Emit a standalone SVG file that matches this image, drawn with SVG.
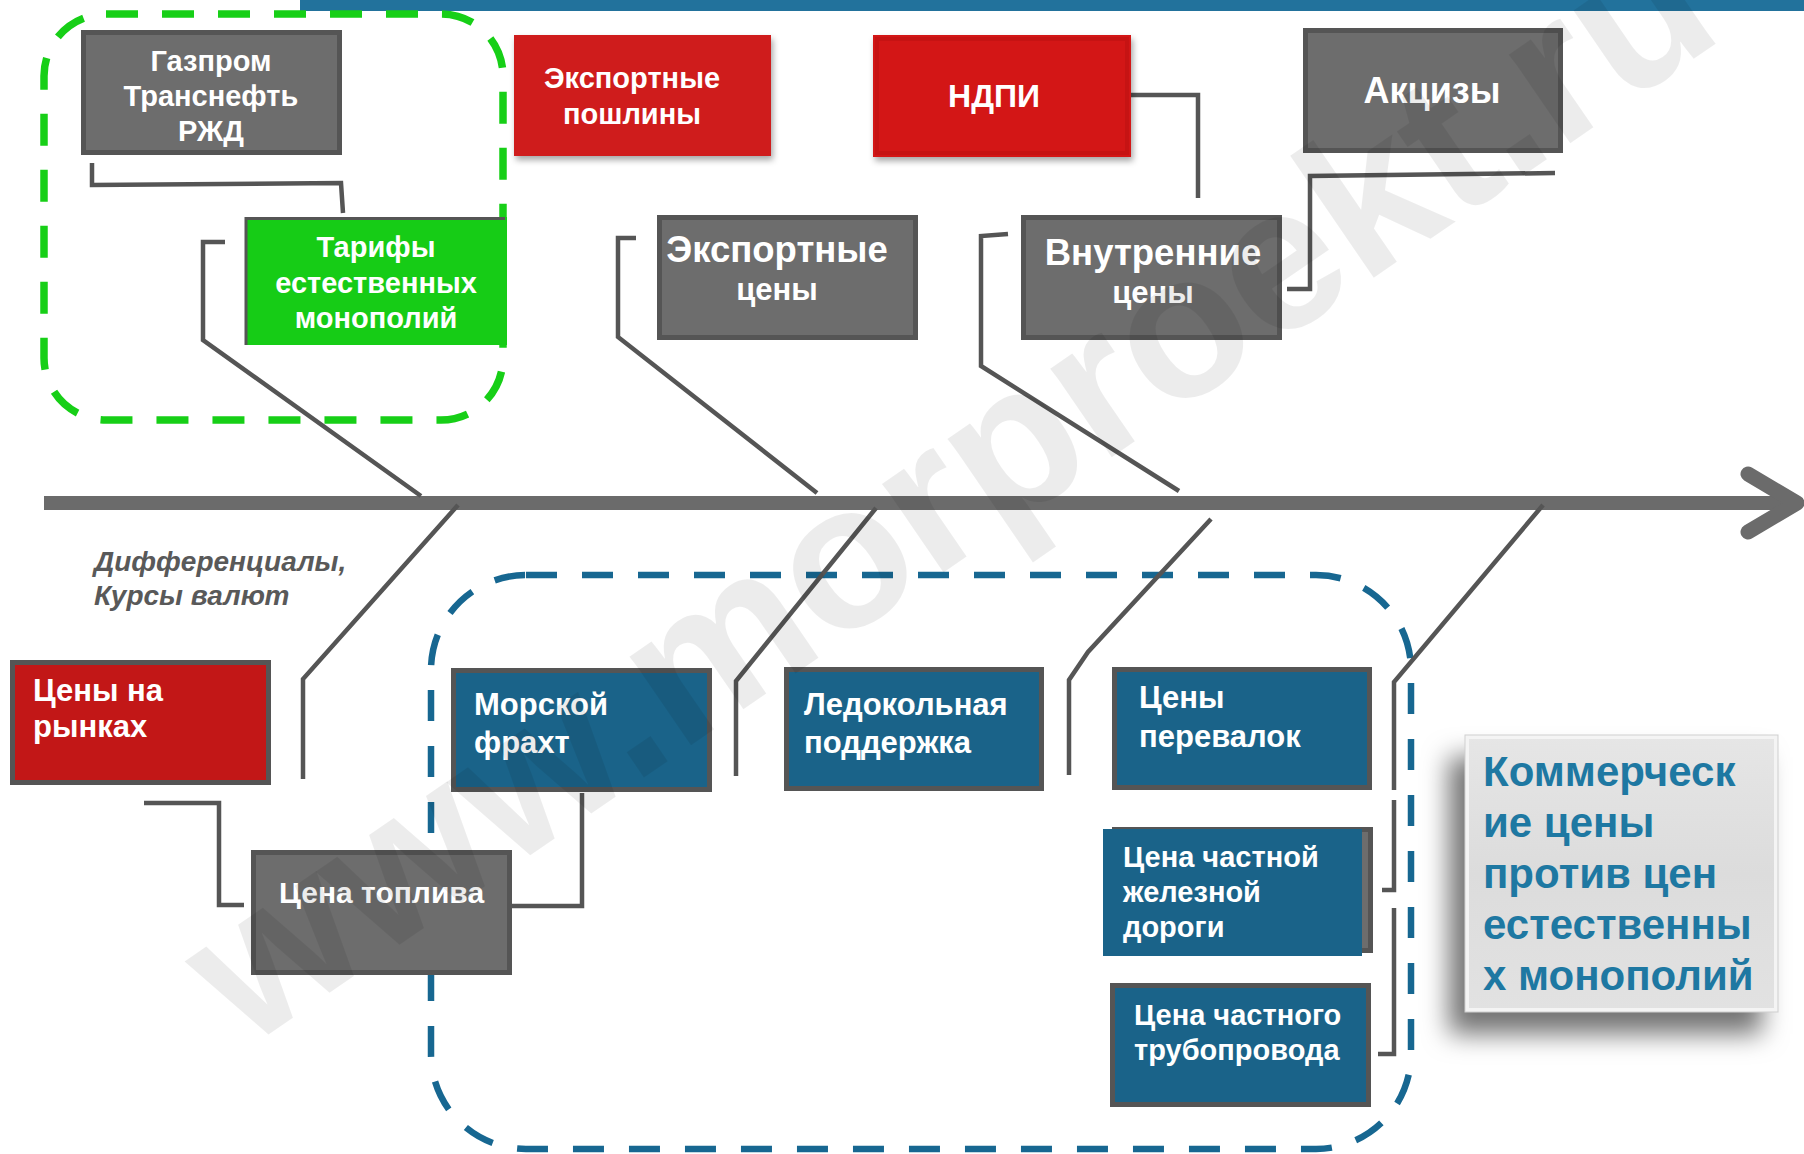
<svg xmlns="http://www.w3.org/2000/svg" width="1804" height="1154" viewBox="0 0 1804 1154">
<defs>
<style>
.t{font-family:"Liberation Sans",Arial,sans-serif;font-weight:bold;fill:#ffffff}
.c{text-anchor:middle}
.gray{fill:#6d6d6d;stroke:#555555;stroke-width:5}
.blue{fill:#1a6389;stroke:#555555;stroke-width:5}
.conn{fill:none;stroke:#555555;stroke-width:4.5;stroke-linejoin:miter}
</style>
<filter id="sh" x="-10%" y="-10%" width="130%" height="140%">
<feDropShadow dx="2" dy="4" stdDeviation="3" flood-color="#000" flood-opacity="0.35"/>
</filter>
<filter id="bigsh" x="-30%" y="-30%" width="160%" height="170%">
<feDropShadow dx="-16" dy="22" stdDeviation="13" flood-color="#000" flood-opacity="0.55"/>
</filter>
<linearGradient id="lg" x1="0" y1="0" x2="0" y2="1">
<stop offset="0" stop-color="#e6e6e6"/>
<stop offset="0.5" stop-color="#dcdcdc"/>
<stop offset="1" stop-color="#e2e2e2"/>
</linearGradient>
</defs>
<rect x="0" y="0" width="1804" height="1154" fill="#ffffff"/>
<rect x="300" y="0" width="1504" height="11" fill="#22729c"/>

<g id="groups">
<rect x="44" y="14" width="459" height="406" rx="62" fill="none" stroke="#17cf17" stroke-width="7.5" stroke-dasharray="32 24"/>
<rect x="431" y="575" width="980" height="574" rx="95" fill="none" stroke="#176791" stroke-width="6.5" stroke-dasharray="31 25"/>
</g>

<g id="axis">
<line x1="44" y1="503" x2="1794" y2="503" stroke="#6b6b6b" stroke-width="14"/>
<polyline points="1748,474 1797,503 1748,532" fill="none" stroke="#6b6b6b" stroke-width="15" stroke-linecap="round" stroke-linejoin="round"/>
</g>

<g id="connectors">
<path class="conn" d="M92,163 V185 L341,183 L343,213"/>
<path class="conn" d="M225,242 H203 V340 L421,496"/>
<path class="conn" d="M636,238 H618 V337 L817,493"/>
<path class="conn" d="M1008,234 L981,236 V366 L1179,491"/>
<path class="conn" d="M1131,95 H1198 V198"/>
<path class="conn" d="M1287,289 H1310 V176 L1555,173"/>
<path class="conn" d="M458,505 L303,679 V779"/>
<path class="conn" d="M144,803 H219 V905 H244"/>
<path class="conn" d="M512,906 H582 V793"/>
<path class="conn" d="M736,776 V681 L876,508"/>
<path class="conn" d="M1069,775 V680 L1088,652 L1211,519"/>
<path class="conn" d="M1543,505 L1394,682 V790"/>
<path class="conn" d="M1394,800 V890 H1382"/>
<path class="conn" d="M1394,908 V1054 H1378"/>
</g>

<g id="n-gazprom">
<rect class="gray" x="83.5" y="32.5" width="256" height="120"/>
<text class="t c" x="211" y="71" font-size="29">Газпром</text>
<text class="t c" x="211" y="106" font-size="29">Транснефть</text>
<text class="t c" x="211" y="141" font-size="29">РЖД</text>
</g>

<g id="n-tarify">
<rect x="245" y="217" width="262" height="128" fill="#16cc16"/>
<path d="M246,345 V218.5 H505" fill="none" stroke="#555555" stroke-width="3"/>
<text class="t c" x="376" y="257" font-size="29">Тарифы</text>
<text class="t c" x="376" y="293" font-size="29">естественных</text>
<text class="t c" x="376" y="328" font-size="29">монополий</text>
</g>

<g id="n-export-duty">
<rect x="514" y="35" width="257" height="121" fill="#cf1a1a" filter="url(#sh)"/>
<text class="t c" x="632" y="88" font-size="29">Экспортные</text>
<text class="t c" x="632" y="124" font-size="29">пошлины</text>
</g>

<g id="n-ndpi">
<rect x="873" y="35" width="258" height="122" fill="#d31616" filter="url(#sh)"/>
<rect x="877" y="39" width="250" height="114" fill="none" stroke="#c01313" stroke-width="4" opacity="0.7"/>
<text class="t c" x="994" y="107" font-size="32">НДПИ</text>
</g>

<g id="n-akcizy">
<rect class="gray" x="1305.5" y="30.5" width="255" height="120"/>
<text class="t c" x="1432" y="103" font-size="36">Акцизы</text>
</g>

<g id="n-export-price">
<rect class="gray" x="659.5" y="217.5" width="256" height="120"/>
<text class="t c" x="777" y="262" font-size="36.5">Экспортные</text>
<text class="t c" x="777" y="300" font-size="31">цены</text>
</g>

<g id="n-internal-price">
<rect class="gray" x="1023.5" y="217.5" width="256" height="120"/>
<text class="t c" x="1153" y="265" font-size="36.5">Внутренние</text>
<text class="t c" x="1153" y="303" font-size="31">цены</text>
</g>

<g id="n-market">
<rect x="12.5" y="662.5" width="256" height="120" fill="#c21717" stroke="#555555" stroke-width="5"/>
<text class="t" x="33" y="701" font-size="31">Цены на</text>
<text class="t" x="33" y="737" font-size="31">рынках</text>
</g>

<g id="n-fuel">
<rect class="gray" x="253.5" y="852.5" width="256" height="120"/>
<text class="t" x="279" y="903" font-size="30">Цена топлива</text>
</g>

<g id="n-freight">
<rect class="blue" x="453.5" y="670.5" width="256" height="119"/>
<text class="t" x="474" y="715" font-size="31">Морской</text>
<text class="t" x="474" y="753" font-size="31">фрахт</text>
</g>

<g id="n-icebreak">
<rect class="blue" x="786.5" y="669.5" width="255" height="119"/>
<text class="t" x="804" y="715" font-size="31">Ледокольная</text>
<text class="t" x="804" y="753" font-size="31">поддержка</text>
</g>

<g id="n-transship">
<rect class="blue" x="1114.5" y="669.5" width="255" height="118"/>
<text class="t" x="1139" y="708" font-size="31">Цены</text>
<text class="t" x="1139" y="747" font-size="31">перевалок</text>
</g>

<g id="n-rail">
<rect class="gray" x="1114.5" y="829.5" width="256" height="121"/>
<rect x="1103" y="829" width="259" height="127" fill="#1a6389"/>
<text class="t" x="1123" y="867" font-size="29">Цена частной</text>
<text class="t" x="1123" y="902" font-size="29">железной</text>
<text class="t" x="1123" y="937" font-size="29">дороги</text>
</g>

<g id="n-pipe">
<rect class="blue" x="1112.5" y="985.5" width="256" height="119"/>
<text class="t" x="1134" y="1025" font-size="29">Цена частного</text>
<text class="t" x="1134" y="1060" font-size="29">трубопровода</text>
</g>

<g id="n-commercial">
<rect x="1465" y="735" width="313" height="277" fill="url(#lg)" filter="url(#bigsh)"/>
<rect x="1467" y="737" width="309" height="273" fill="none" stroke="#f4f4f4" stroke-width="4"/>
<rect x="1465" y="735" width="313" height="277" fill="none" stroke="#cfcfcf" stroke-width="1"/>
<g font-family="'Liberation Sans',Arial,sans-serif" font-weight="bold" font-size="42" fill="#1e78a2">
<text x="1483" y="786">Коммерческ</text>
<text x="1483" y="837">ие цены</text>
<text x="1483" y="888">против цен</text>
<text x="1483" y="939">естественны</text>
<text x="1483" y="990">х монополий</text>
</g>
</g>

<g id="label-diff">
<text x="94" y="571" font-family="'Liberation Sans',Arial,sans-serif" font-weight="bold" font-style="italic" font-size="28" fill="#595959">Дифференциалы,</text>
<text x="94" y="605" font-family="'Liberation Sans',Arial,sans-serif" font-weight="bold" font-style="italic" font-size="28" fill="#595959">Курсы валют</text>
</g>

<text x="246" y="1050" transform="rotate(-34.4 246 1050)" font-family="'Liberation Sans',Arial,sans-serif" font-weight="bold" font-size="204" fill="#000000" fill-opacity="0.075">www.morproekt.ru</text>
</svg>
